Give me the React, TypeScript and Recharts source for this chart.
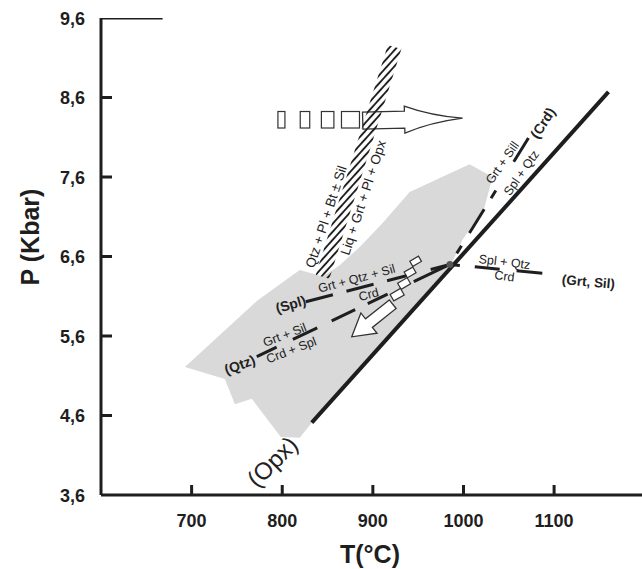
import React from 'react';
import { ComposedChart, XAxis, YAxis, Scatter, Label } from 'recharts';

const FONT = '"Liberation Sans", Arial, Helvetica, sans-serif';
const INK = '#1e1e1e';

// axes
const tTicks = [700, 800, 900, 1000, 1100];
const pTicks = [3.6, 4.6, 5.6, 6.6, 7.6, 8.6, 9.6];
const topFrame = [{ x: 600, y: 9.6 }, { x: 668, y: 9.6 }];

// grey P-T field (T in °C, P in kbar)
const greyField = [
  { x: 692.6, y: 5.21 }, { x: 773.0, y: 6.05 }, { x: 819.3, y: 6.43 }, { x: 844.7, y: 6.35 },
  { x: 863.4, y: 6.49 }, { x: 885.5, y: 6.72 }, { x: 910.8, y: 7.02 }, { x: 940.6, y: 7.41 },
  { x: 1006.7, y: 7.76 }, { x: 1032.1, y: 7.6 }, { x: 1023.2, y: 7.22 }, { x: 999.0, y: 6.81 },
  { x: 986.9, y: 6.51 }, { x: 832.6, y: 4.51 }, { x: 819.3, y: 4.32 }, { x: 798.4, y: 4.33 },
  { x: 766.4, y: 4.81 }, { x: 747.7, y: 4.74 }, { x: 736.7, y: 5.06 },
];

// hatched melting band
const meltBand = [
  { x: 837.0, y: 6.37 }, { x: 852.0, y: 6.32 }, { x: 931.5, y: 9.21 }, { x: 916.5, y: 9.26 },
];

// reactions
const opxLine = [{ x: 832.6, y: 4.51 }, { x: 1160, y: 8.67 }];
const splLine = [{ x: 826.0, y: 6.03 }, { x: 985, y: 6.5 }];
const qtzLine = [{ x: 771.9, y: 5.34 }, { x: 985, y: 6.5 }];
const crdLine = [{ x: 985, y: 6.5 }, { x: 1071.7, y: 8.09 }];
const grtSilLine = [{ x: 985, y: 6.5 }, { x: 1087, y: 6.39 }];
const invariant = [{ x: 985, y: 6.5 }];

// P-T path
const progradeTrail = [{ x: 799.1, y: 8.32 }, { x: 825.1, y: 8.32 }, { x: 850.1, y: 8.32 }, { x: 875.3, y: 8.32 }];
const progradeArrow = [{ x: 888.8, y: 8.31 }, { x: 999, y: 8.34 }];
const retroTrail = [{ x: 947.2, y: 6.54 }, { x: 941.1, y: 6.4 }, { x: 934.5, y: 6.26 }, { x: 926.8, y: 6.12 }];
const retroArrow = [{ x: 921.9, y: 6.0 }, { x: 876.7, y: 5.59 }];

const labels = [
  { id: 'spl', x: 809.4, y: 6.0, text: '(Spl)' },
  { id: 'splTop', x: 882.2, y: 6.32, text: 'Grt + Qtz + Sil' },
  { id: 'splBot', x: 895.4, y: 6.12, text: 'Crd' },
  { id: 'qtz', x: 753.2, y: 5.24, text: '(Qtz)' },
  { id: 'qtzTop', x: 802.8, y: 5.61, text: 'Grt + Sil' },
  { id: 'qtzBot', x: 810.1, y: 5.42, text: 'Crd + Spl' },
  { id: 'crdTop', x: 1043.1, y: 7.78, text: 'Grt + Sill' },
  { id: 'crdBot', x: 1064.0, y: 7.65, text: 'Spl + Qtz' },
  { id: 'crd', x: 1087.5, y: 8.28, text: '(Crd)' },
  { id: 'gsTop', x: 1045.3, y: 6.53, text: 'Spl + Qtz' },
  { id: 'gsBot', x: 1045.3, y: 6.35, text: 'Crd' },
  { id: 'gs', x: 1137.9, y: 6.28, text: '(Grt, Sil)' },
  { id: 'solL', x: 848.5, y: 7.1, text: 'Qtz + Pl + Bt ± Sil' },
  { id: 'solR', x: 889.5, y: 7.34, text: 'Liq + Grt + Pl + Opx' },
  { id: 'opx', x: 789, y: 4.02, text: '(Opx)' },
];

const look: Record<string, { angle: number; size: number; bold?: boolean }> = {
  spl: { angle: -16, size: 14, bold: true },
  splTop: { angle: -15, size: 12.5 },
  splBot: { angle: -15, size: 12.5 },
  qtz: { angle: -20, size: 14, bold: true },
  qtzTop: { angle: -21, size: 12.5 },
  qtzBot: { angle: -21, size: 12.5 },
  crdTop: { angle: -55, size: 12.5 },
  crdBot: { angle: -55, size: 12.5 },
  crd: { angle: -57, size: 14, bold: true },
  gsTop: { angle: 7, size: 12.5 },
  gsBot: { angle: 7, size: 12.5 },
  gs: { angle: 5, size: 13.5, bold: true },
  solL: { angle: -72, size: 13.5 },
  solR: { angle: -72, size: 13.5 },
  opx: { angle: -45, size: 24 },
};

const progradeWidths = [7, 9.5, 12.5, 18];
const retroSizes = [[10, 6], [10, 6.5], [11, 7], [12, 7.5]];

const hidden = () => <g />;

const polygon = (fill: string, id?: string) => (props: any) => {
  const pts = (props.points || []).map((p: any) => `${p.x},${p.y}`).join(' ');
  if (!id) return <polygon points={pts} fill={fill} stroke="none" />;
  return (
    <g>
      <defs>
        <pattern id={id} width={5.4} height={10} patternUnits="userSpaceOnUse" patternTransform="rotate(42)">
          <line x1={2.7} y1={0} x2={2.7} y2={10} stroke={INK} strokeWidth={1.9} />
        </pattern>
      </defs>
      <polygon points={pts} fill={`url(#${id})`} stroke="none" />
    </g>
  );
};

const arrow = (body: number, head: number, headLen: number, concave: boolean) => (props: any) => {
  const [a, b] = props.points;
  const dx = b.x - a.x;
  const dy = b.y - a.y;
  const len = Math.hypot(dx, dy);
  const ux = dx / len, uy = dy / len;
  const vx = -uy, vy = ux;
  const bx = b.x - ux * headLen, by = b.y - uy * headLen;
  const pt = (px: number, py: number, w: number) => `${px + vx * w},${py + vy * w}`;
  const cx = bx + ux * headLen * 0.45, cy = by + uy * headLen * 0.45;
  const side1 = concave ? `Q ${pt(cx, cy, head * 0.25)} ${b.x},${b.y}` : `L ${b.x},${b.y}`;
  const side2 = concave ? `Q ${pt(cx, cy, -head * 0.25)} ${pt(bx, by, -head)}` : `L ${pt(bx, by, -head)}`;
  const d = `M ${pt(a.x, a.y, body)} L ${pt(bx, by, body)} L ${pt(bx, by, head)} ${side1} ${side2} L ${pt(bx, by, -body)} L ${pt(a.x, a.y, -body)} Z`;
  return <path d={d} fill="#fff" stroke="#333" strokeWidth={1.3} strokeLinejoin="miter" />;
};

function TTick(props: any) {
  const { x, y, payload } = props;
  return (
    <g>
      <line x1={x} y1={y} x2={x} y2={y - 10} stroke={INK} strokeWidth={3} />
      <text x={x} y={y + 32} textAnchor="middle" fontFamily={FONT} fontWeight="bold" fontSize={18} fill={INK}>
        {payload.value}
      </text>
    </g>
  );
}

function PTick(props: any) {
  const { x, y, payload } = props;
  const v = Number(payload.value);
  const edge = v === 3.6 || v === 9.6;
  return (
    <g>
      {!edge && <line x1={x} y1={y} x2={x + 11} y2={y} stroke={INK} strokeWidth={3} />}
      <text x={x - 16} y={y + 6.5} textAnchor="end" fontFamily={FONT} fontWeight="bold" fontSize={18} fill={INK}>
        {v.toFixed(1).replace('.', ',')}
      </text>
    </g>
  );
}

function LabelText(props: any) {
  const { cx, cy, payload } = props;
  const s = look[payload.id];
  return (
    <text
      x={cx}
      y={cy}
      transform={`rotate(${s.angle} ${cx} ${cy})`}
      textAnchor="middle"
      dominantBaseline="central"
      fontFamily={FONT}
      fontSize={s.size}
      fontWeight={s.bold ? 'bold' : 'normal'}
      fill="#222"
    >
      {payload.text}
    </text>
  );
}

const dashed = (dash: string) => ({ stroke: INK, strokeWidth: 3, strokeDasharray: dash });

export default function App() {
  return (
    <div style={{ position: 'absolute', left: 0, top: 0, width: 642, height: 569, overflow: 'hidden', background: '#fff' }}>
      <ComposedChart width={642} height={569} margin={{ top: 18, right: 0, bottom: 0, left: 0 }}>
        <XAxis
          type="number"
          dataKey="x"
          domain={[600, 1197]}
          ticks={tTicks}
          interval={0}
          allowDataOverflow
          height={74}
          tickLine={false}
          tickSize={0}
          tickMargin={0}
          tick={(p: any) => <TTick {...p} />}
          axisLine={{ stroke: INK, strokeWidth: 3 }}
        >
          <Label
            content={() => (
              <text x={370} y={563} textAnchor="middle" fontFamily={FONT} fontWeight="bold" fontSize={25} fill={INK}>
                T(°C)
              </text>
            )}
          />
        </XAxis>
        <YAxis
          type="number"
          dataKey="y"
          domain={[3.6, 9.6]}
          ticks={pTicks}
          interval={0}
          allowDataOverflow
          width={101}
          tickLine={false}
          tickSize={0}
          tickMargin={0}
          tick={(p: any) => <PTick {...p} />}
          axisLine={{ stroke: INK, strokeWidth: 3 }}
        >
          <Label
            content={() => (
              <text x={39} y={237} transform="rotate(-90 39 237)" textAnchor="middle" fontFamily={FONT} fontWeight="bold" fontSize={25} fill={INK}>
                P (Kbar)
              </text>
            )}
          />
        </YAxis>

        <Scatter data={greyField} line={polygon('#d9d9d9')} lineType="joint" shape={hidden} isAnimationActive={false} />
        <Scatter data={topFrame} line={{ stroke: INK, strokeWidth: 3 }} lineType="joint" shape={hidden} isAnimationActive={false} />

        <Scatter
          data={progradeTrail}
          shape={(p: any) => {
            const i = progradeTrail.findIndex((d) => d.x === p.payload?.x);
            const w = progradeWidths[Math.max(0, i)];
            return <rect x={p.cx - w / 2} y={p.cy - 8.25} width={w} height={16.5} fill="#fff" stroke="#333" strokeWidth={1.2} />;
          }}
          isAnimationActive={false}
        />
        <Scatter data={progradeArrow} line={arrow(8.5, 13.5, 58, true)} lineType="joint" shape={hidden} isAnimationActive={false} />
        <Scatter
          data={retroTrail}
          shape={(p: any) => {
            const i = retroTrail.findIndex((d) => d.x === p.payload?.x);
            const [w, h] = retroSizes[Math.max(0, i)];
            return (
              <rect
                x={p.cx - w / 2}
                y={p.cy - h / 2}
                width={w}
                height={h}
                transform={`rotate(-30 ${p.cx} ${p.cy})`}
                fill="#fff"
                stroke="#333"
                strokeWidth={1.2}
              />
            );
          }}
          isAnimationActive={false}
        />
        <Scatter data={retroArrow} line={arrow(5.5, 13, 22, false)} lineType="joint" shape={hidden} isAnimationActive={false} />

        <Scatter data={meltBand} line={polygon('none', 'hatch')} lineType="joint" shape={hidden} isAnimationActive={false} />

        <Scatter data={opxLine} line={{ stroke: INK, strokeWidth: 4 }} lineType="joint" shape={hidden} isAnimationActive={false} />
        <Scatter data={splLine} line={dashed('28 14 28 14 20 25 30')} lineType="joint" shape={hidden} isAnimationActive={false} />
        <Scatter data={qtzLine} line={dashed('22 18 27 16 26 14 22 29 41')} lineType="joint" shape={hidden} isAnimationActive={false} />
        <Scatter data={crdLine} line={dashed('0 13 9 15 28 13 9 34 30')} lineType="joint" shape={hidden} isAnimationActive={false} />
        <Scatter data={grtSilLine} line={dashed('10 15 25 17 30')} lineType="joint" shape={hidden} isAnimationActive={false} />
        <Scatter
          data={invariant}
          shape={(p: any) => <circle cx={p.cx} cy={p.cy} r={3.5} fill="#555" />}
          isAnimationActive={false}
        />

        <Scatter data={labels} shape={(p: any) => <LabelText {...p} />} isAnimationActive={false} />
      </ComposedChart>
    </div>
  );
}
